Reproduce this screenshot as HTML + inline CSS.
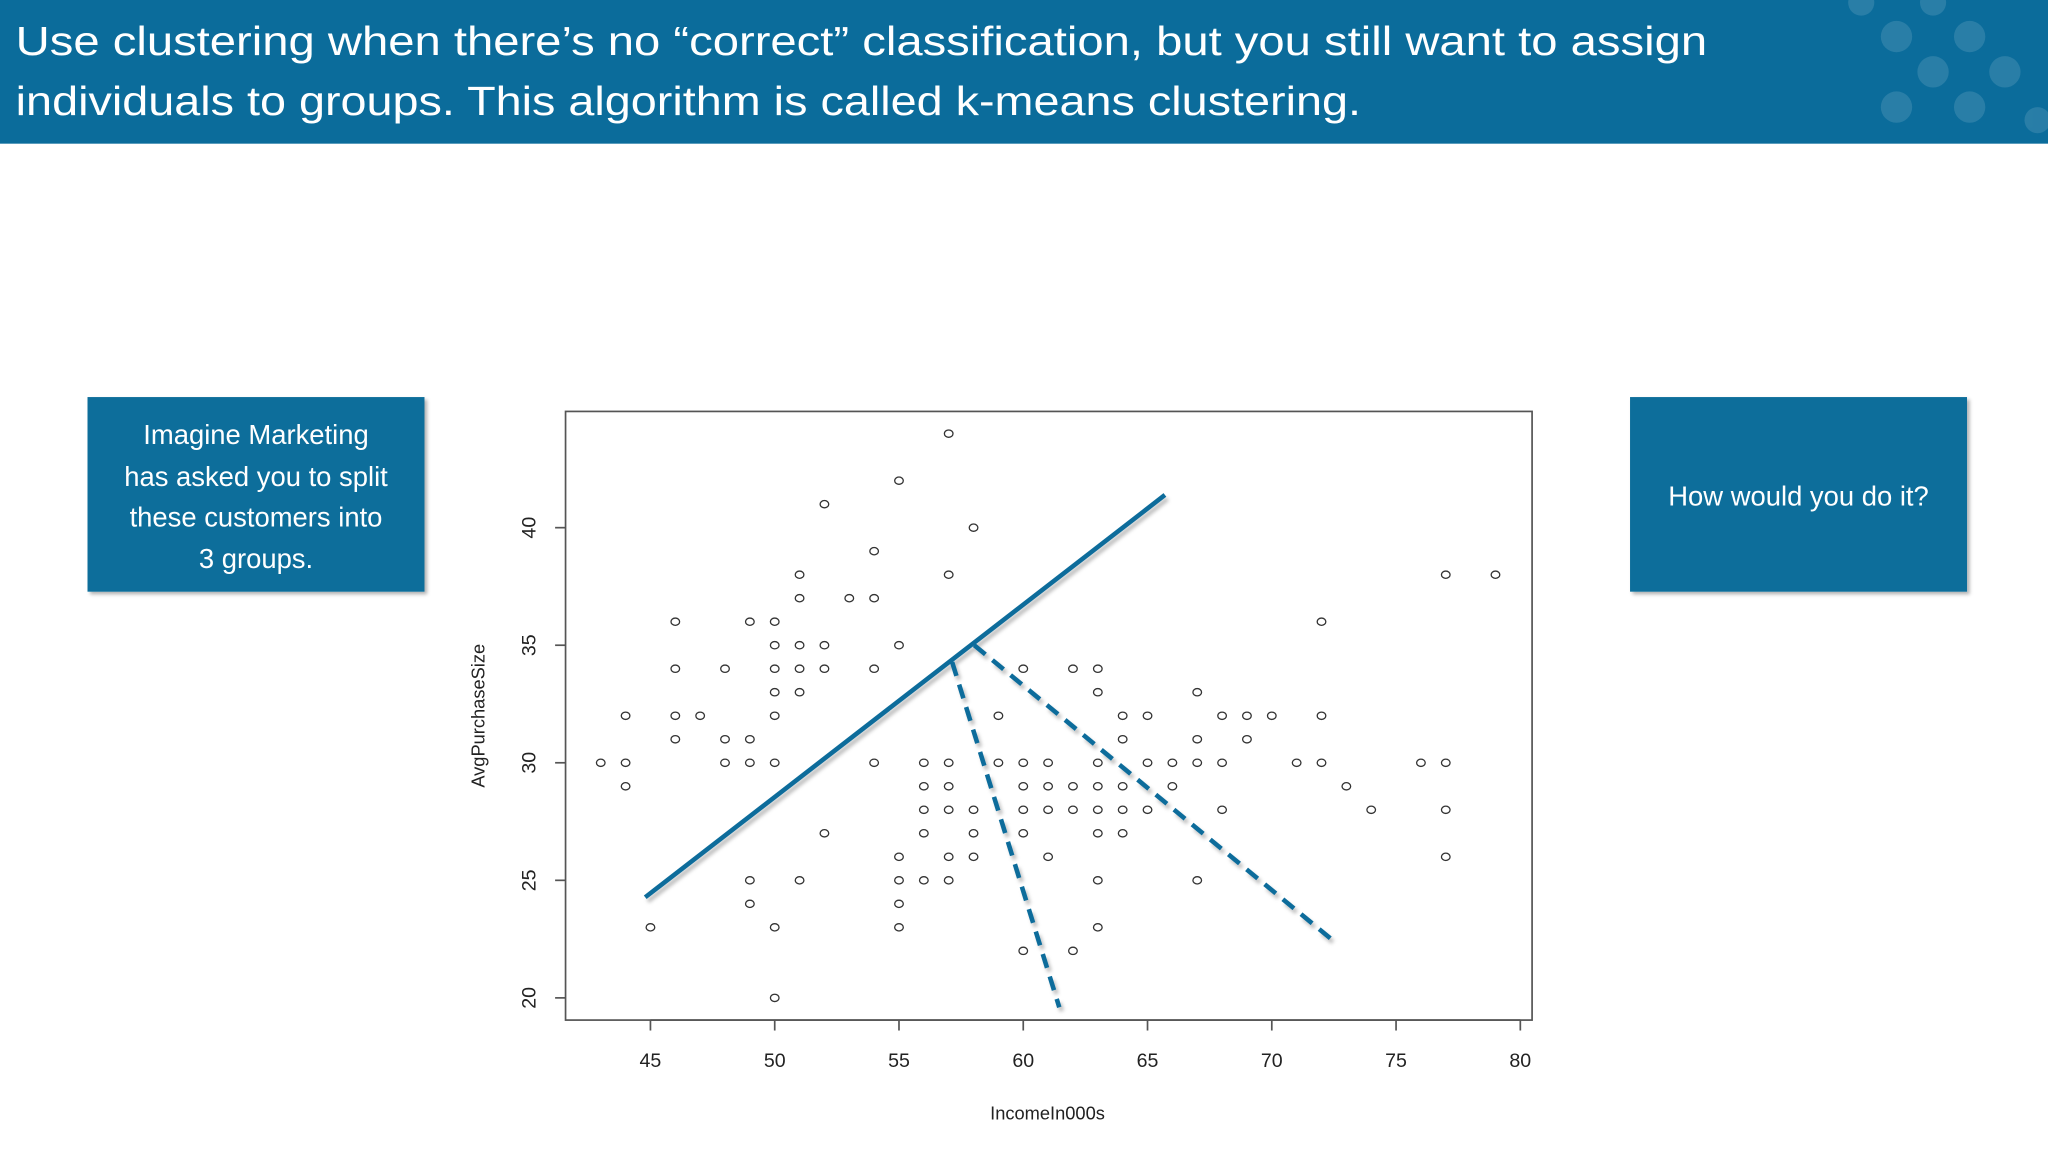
<!DOCTYPE html>
<html><head><meta charset="utf-8"><style>
html,body{margin:0;padding:0;background:#fff;}
svg{display:block;font-family:"Liberation Sans",sans-serif;}
</style></head><body>
<svg id="chart" width="2048" height="1152" viewBox="0 0 1568 882" preserveAspectRatio="none">
<defs>
<filter id="sh" x="-10%" y="-10%" width="130%" height="130%"><feDropShadow dx="2" dy="2" stdDeviation="1.5" flood-color="#000" flood-opacity="0.3"/></filter>
<filter id="lsh" x="-10%" y="-10%" width="130%" height="130%"><feDropShadow dx="2" dy="3" stdDeviation="1.5" flood-color="#000" flood-opacity="0.25"/></filter>
</defs>
<rect x="0" y="0" width="1568" height="110" fill="#0b6c9b"/>
<g fill="#ffffff" opacity="0.12">
<circle cx="1452" cy="28" r="12"/><circle cx="1508" cy="28" r="12"/><circle cx="1480" cy="55" r="12"/><circle cx="1452" cy="82" r="12"/><circle cx="1508" cy="82" r="12"/><circle cx="1535" cy="55" r="12"/><circle cx="1425" cy="2" r="10"/><circle cx="1480" cy="2" r="10"/><circle cx="1560" cy="92" r="10"/>
</g>
<text x="12" y="42" fill="#fff" font-size="31" textLength="1295" lengthAdjust="spacingAndGlyphs">Use clustering when there’s no “correct” classification, but you still want to assign</text>
<text x="12" y="88" fill="#fff" font-size="31" textLength="1030" lengthAdjust="spacingAndGlyphs">individuals to groups. This algorithm is called k-means clustering.</text>

<g>
<rect x="67" y="304" width="258" height="149" fill="#0b6e9b" filter="url(#sh)"/>
<g fill="#fff" font-size="21" text-anchor="middle">
<text x="196" y="340">Imagine Marketing</text>
<text x="196" y="372">has asked  you to split</text>
<text x="196" y="403">these customers into</text>
<text x="196" y="435">3 groups.</text>
</g></g>
<g>
<rect x="1248" y="304" width="258" height="149" fill="#0b6e9b" filter="url(#sh)"/>
<text x="1377" y="387" fill="#fff" font-size="21" text-anchor="middle">How would you do it?</text>
</g>

<rect x="433" y="315" width="740" height="466" fill="none" stroke="#555" stroke-width="1.3"/>
<g id="xaxis"></g>
<g id="yaxis"></g>
<text x="802" y="857" font-size="14" text-anchor="middle" fill="#222">IncomeIn000s</text>
<text x="371" y="548" font-size="14" text-anchor="middle" fill="#222" transform="rotate(-90 371 548)">AvgPurchaseSize</text>
<g id="points"></g>
<g id="lines" filter="url(#lsh)"></g>
</svg>
<script>
const xTicks=[45,50,55,60,65,70,75,80];
const yTicks=[20,25,30,35,40];
const income=[43,44,44,44,45,46,46,46,46,47,48,48,48,49,49,49,49,49,50,50,50,50,50,50,50,50,51,51,51,51,51,51,52,52,52,52,53,54,54,54,54,55,55,55,55,55,55,56,56,56,56,56,57,57,57,57,57,57,57,58,58,58,58,59,59,60,60,60,60,60,60,61,61,61,61,62,62,62,62,63,63,63,63,63,63,63,63,64,64,64,64,64,65,65,65,66,66,67,67,67,67,68,68,68,69,69,70,71,72,72,72,73,74,76,77,77,77,77,79];
const purchase=[30,32,30,29,23,36,34,32,31,32,34,31,30,36,31,30,25,24,36,35,34,33,32,30,23,20,38,37,35,34,33,25,41,35,34,27,37,39,37,34,30,42,35,26,25,24,23,30,29,28,27,25,44,38,30,29,28,26,25,40,28,27,26,32,30,34,30,29,28,27,22,30,29,28,26,34,29,28,22,34,33,30,29,28,27,25,23,32,31,29,28,27,32,30,28,30,29,33,31,30,25,32,30,28,32,31,32,30,36,32,30,29,28,30,38,30,28,26,38];
const solidLine=[[44.79,24.28],[65.7,41.39]];
const dashLine1=[[57.14,34.28],[61.45,19.6]];
const dashLine2=[[58.03,35.0],[72.59,22.33]];
const NS='http://www.w3.org/2000/svg';
const sx=v=>498+(v-45)*(1164-498)/35;
const sy=v=>764-(v-20)*(764-404)/20;
function mk(tag,attrs,parent){const e=document.createElementNS(NS,tag);for(const k in attrs)e.setAttribute(k,attrs[k]);parent.appendChild(e);return e;}
const xa=document.getElementById('xaxis');
mk('line',{x1:sx(45),x2:sx(80),y1:781,y2:781,stroke:'#555','stroke-width':1.3},xa);
xTicks.forEach(t=>{
 const l=mk('line',{x1:sx(t),x2:sx(t),y1:781,y2:789,stroke:'#555','stroke-width':1.3},xa);
 
 
 const tx=mk('text',{x:sx(t),y:817,'font-size':15,'text-anchor':'middle',fill:'#222'},xa);
 tx.textContent=t;
 
 
});
const ya=document.getElementById('yaxis');
yTicks.forEach(t=>{
 const l=mk('line',{x1:425,x2:433,y1:sy(t),y2:sy(t),stroke:'#555','stroke-width':1.3},ya);
 
 
 const tx=mk('text',{x:410,y:sy(t),'font-size':15,'text-anchor':'middle',fill:'#222',transform:`rotate(-90 410 ${sy(t)})`},ya);
 tx.textContent=t;
 
 
});
const pg=document.getElementById('points');
income.forEach((v,i)=>{
 const c=mk('ellipse',{cx:sx(v),cy:sy(purchase[i]),rx:3.3,ry:2.8,fill:'none',stroke:'#333','stroke-width':1},pg);
 
 
});
const lg=document.getElementById('lines');
function seg(p,dash,name){
 const l=mk('line',{x1:sx(p[0][0]),y1:sy(p[0][1]),x2:sx(p[1][0]),y2:sy(p[1][1]),stroke:'#0b6c9b','stroke-width':3.5},lg);
 if(dash)l.setAttribute('stroke-dasharray','11 7');
 
 
}
seg(solidLine,false,'solid-boundary-line');
seg(dashLine1,true,'dashed-boundary-line-1');
seg(dashLine2,true,'dashed-boundary-line-2');
</script>
</body></html>
